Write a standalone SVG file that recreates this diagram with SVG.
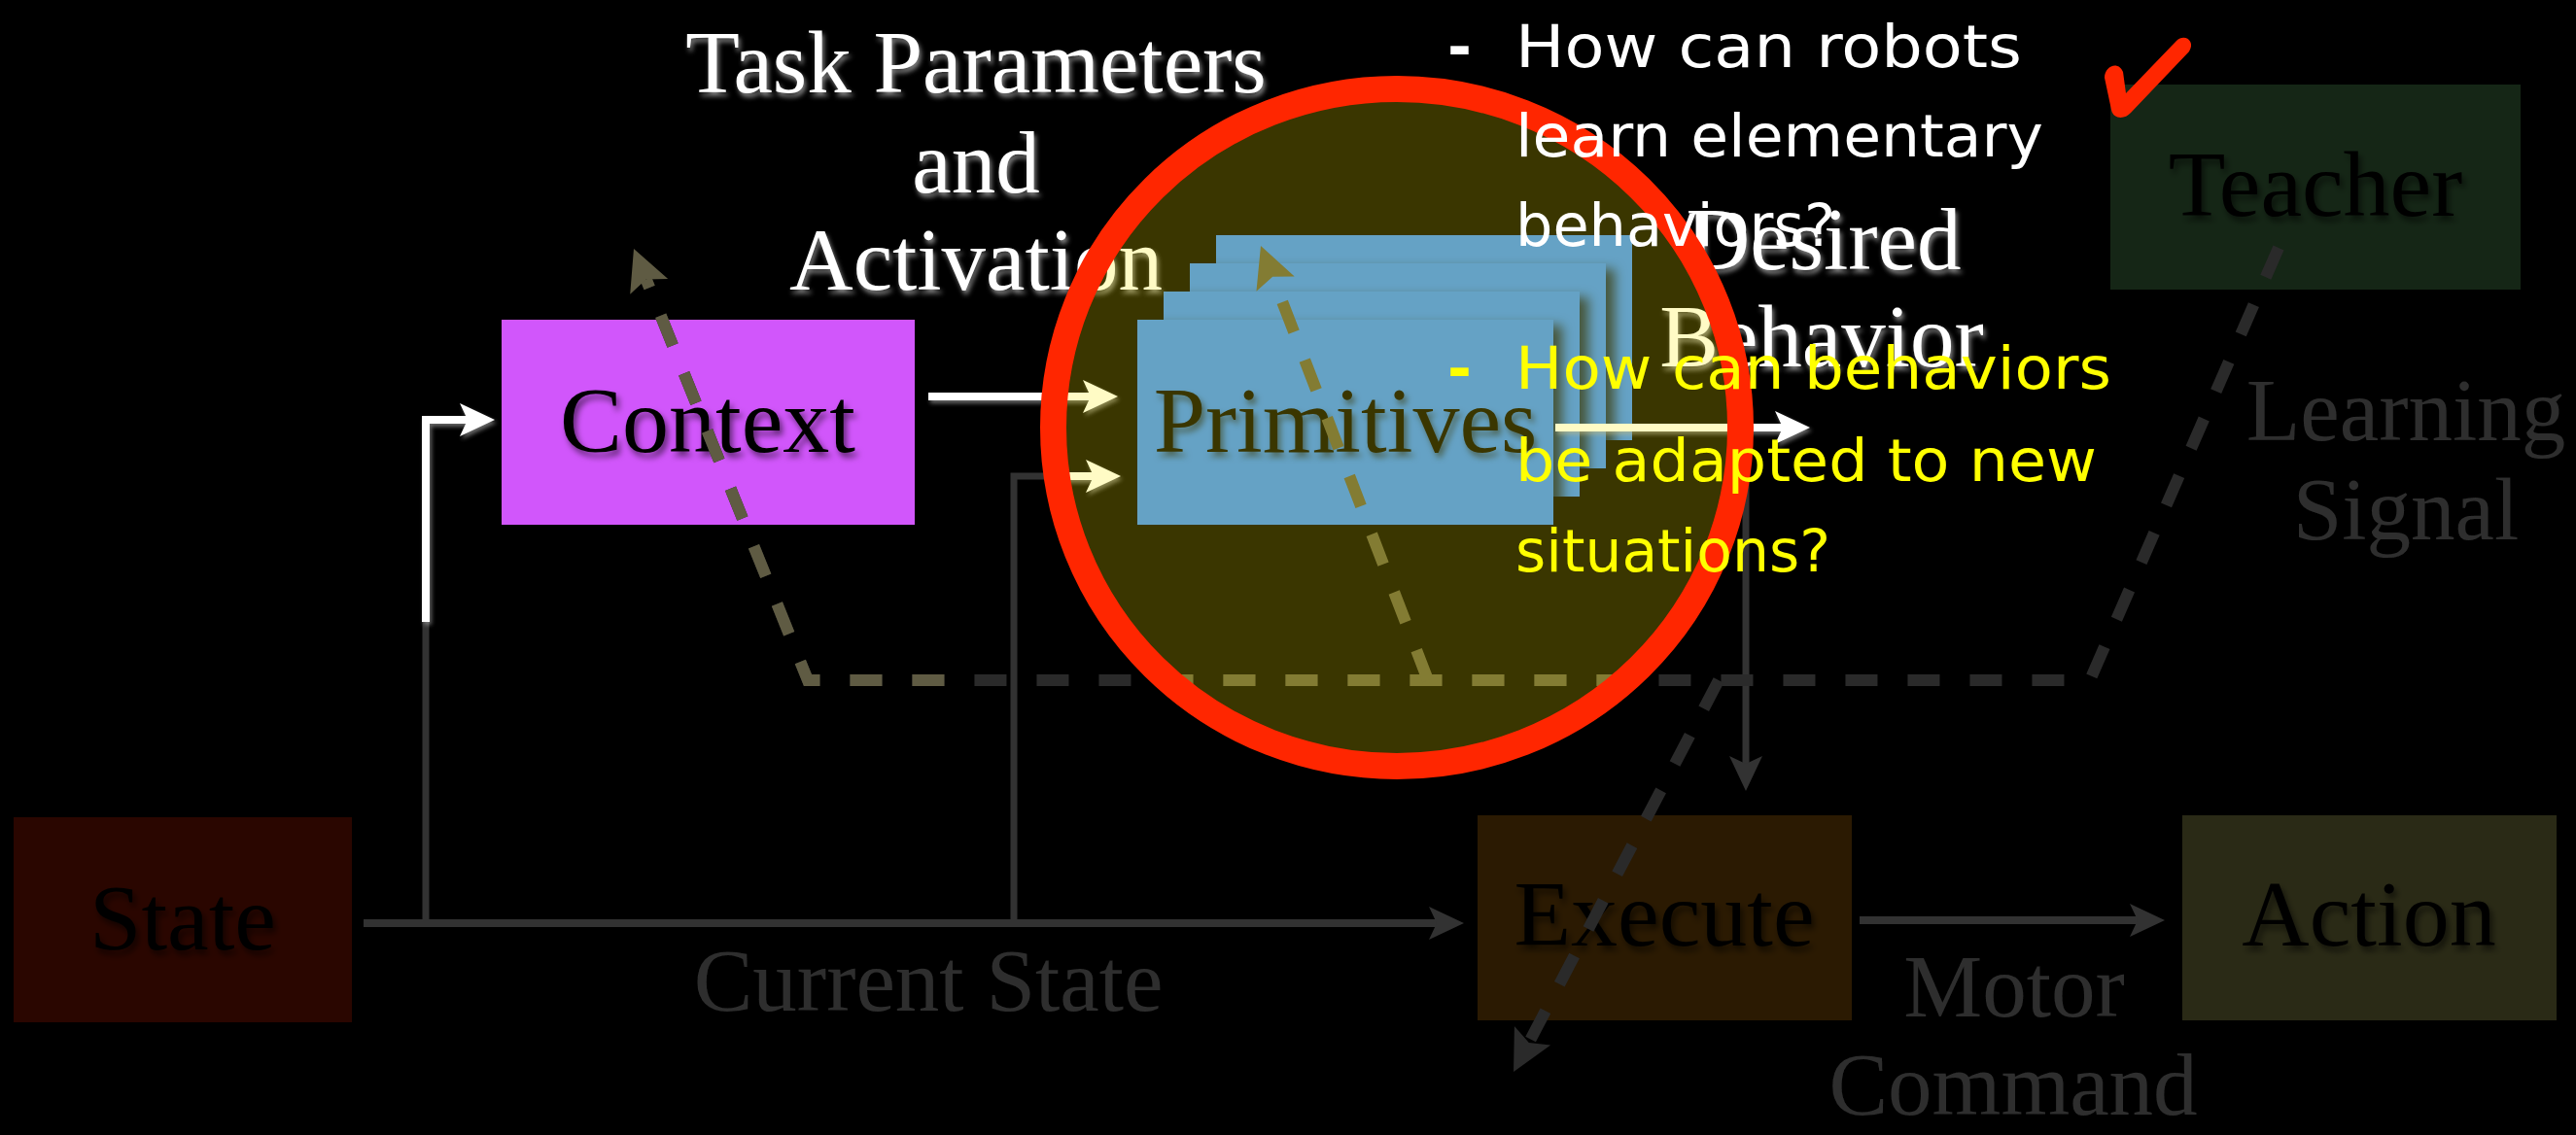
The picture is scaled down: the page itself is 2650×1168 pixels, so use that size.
<svg xmlns="http://www.w3.org/2000/svg" width="2650" height="1168" viewBox="0 0 2650 1168">
<defs>
<style>
.nt{font-family:"Liberation Serif","Times New Roman",serif;font-size:96px;text-anchor:middle;fill:#000}
.lbl{font-family:"Liberation Serif","Times New Roman",serif;font-size:91px;text-anchor:middle}
.dim{fill:#2e2e2e}
.wl{fill:#fff}
.q{font-family:"DejaVu Sans",sans-serif;font-size:60px}
.qw{fill:#fff}
.qy{fill:#ffff00}
.g{fill:none;stroke:#323232;stroke-width:7}
.gm{fill:none;stroke:#323232;stroke-width:8}
.w{fill:none;stroke:#fff;stroke-width:8}
.d{fill:none;stroke-width:12;stroke-dasharray:33 31}
.dk{stroke:#2a2a2a}
.ol{stroke:#5f5b43}
.pbox{fill:#378cff}
</style>
<filter id="fglow" x="-10%" y="-20%" width="120%" height="150%">
<feDropShadow dx="2" dy="4" stdDeviation="2.5" flood-color="#9a9a9a" flood-opacity="0.85"/>
</filter>
<filter id="fsh" x="-10%" y="-20%" width="120%" height="150%">
<feDropShadow dx="3" dy="5" stdDeviation="3" flood-color="#000" flood-opacity="0.55"/>
</filter>
<filter id="fbox" x="-10%" y="-10%" width="125%" height="125%">
<feDropShadow dx="9" dy="6" stdDeviation="6" flood-color="#000" flood-opacity="0.7"/>
</filter>
<filter id="fwa" x="-20%" y="-50%" width="140%" height="200%">
<feDropShadow dx="2" dy="3" stdDeviation="2" flood-color="#aaa" flood-opacity="0.6"/>
</filter>
<marker id="ag" markerUnits="userSpaceOnUse" viewBox="-10 -20 40 40" markerWidth="40" markerHeight="40" refX="0" refY="0" orient="auto">
<path d="M28,0 L-8,-17 L0,0 L-8,17 Z" fill="#323232"/>
</marker>
<marker id="aw" markerUnits="userSpaceOnUse" viewBox="-10 -20 40 40" markerWidth="40" markerHeight="40" refX="0" refY="0" orient="auto">
<path d="M28,0 L-8,-17 L0,0 L-8,17 Z" fill="#fff"/>
</marker>
<marker id="adk" markerUnits="userSpaceOnUse" viewBox="-10 -24 48 48" markerWidth="48" markerHeight="48" refX="0" refY="0" orient="auto">
<path d="M34,0 L-8,-21 L0,0 L-8,21 Z" fill="#2a2a2a"/>
</marker>
<marker id="aol" markerUnits="userSpaceOnUse" viewBox="-10 -24 48 48" markerWidth="48" markerHeight="48" refX="0" refY="0" orient="auto">
<path d="M34,0 L-8,-21 L0,0 L-8,21 Z" fill="#5f5b43"/>
</marker>
<clipPath id="olclip">
<rect x="0" y="0" width="1000" height="1168"/>
<ellipse cx="1437" cy="440" rx="354" ry="349"/>
</clipPath>
<path id="trunk" d="M2344,255 L2150,700 L831,700 L664.7,287.5"/>
</defs>

<rect x="0" y="0" width="2650" height="1168" fill="#000"/>

<g id="state">
<rect x="14" y="841" width="348" height="211" fill="#2a0600"/>
<text x="188" y="977" class="nt" filter="url(#fsh)">State</text>
</g>
<g id="context">
<rect x="516" y="329" width="425" height="211" fill="#d156fb"/>
<text x="728" y="465" class="nt" filter="url(#fsh)">Context</text>
</g>
<g id="primitives">
<rect x="1251" y="242" width="428" height="211" class="pbox" filter="url(#fbox)"/>
<rect x="1224" y="271" width="428" height="211" class="pbox" filter="url(#fbox)"/>
<rect x="1197" y="300" width="428" height="211" class="pbox" filter="url(#fbox)"/>
<rect x="1170" y="329" width="428" height="211" class="pbox" filter="url(#fbox)"/>
<text x="1384" y="465" class="nt" filter="url(#fsh)">Primitives</text>
</g>
<g id="execute">
<rect x="1520" y="839" width="385" height="211" fill="#2b1a02"/>
<text x="1712" y="973" class="nt" filter="url(#fsh)">Execute</text>
</g>
<g id="action">
<rect x="2245" y="839" width="385" height="211" fill="#2a2a16"/>
<text x="2437" y="973" class="nt" filter="url(#fsh)">Action</text>
</g>
<g id="teacher">
<rect x="2171" y="87" width="422" height="211" fill="#152616"/>
<text x="2382" y="222" class="nt" filter="url(#fsh)">Teacher</text>
</g>

<g id="connectors">
<path class="gm" d="M374,950 L1478,950" marker-end="url(#ag)"/>
<path class="gm" d="M1913,947 L2199,947" marker-end="url(#ag)"/>
<path class="g" d="M1796,444 L1796,786" marker-end="url(#ag)"/>
<path class="g" d="M438,950 L438,636"/>
<path class="g" d="M1043,950 L1043,490 L1088,490"/>
<g filter="url(#fwa)">
<path class="w" d="M438,640 L438,432 L481,432" marker-end="url(#aw)"/>
<path class="w" d="M955,408 L1122,408" marker-end="url(#aw)"/>
<path class="w" d="M1080,490 L1125,490" marker-end="url(#aw)"/>
<path class="w" d="M1600,440 L1834,440" marker-end="url(#aw)"/>
</g>
<use href="#trunk" class="d dk"/>
<use href="#trunk" class="d ol" clip-path="url(#olclip)" marker-end="url(#aol)"/>
<path class="d ol" d="M1469,700 L1309.2,284.7" marker-end="url(#aol)"/>
<path class="d dk" d="M1768,700 L1572.8,1072.9" marker-end="url(#adk)"/>
</g>

<g id="labels">
<text class="lbl wl" filter="url(#fglow)" font-size="89"><tspan x="1004" y="95">Task Parameters</tspan><tspan x="1004" y="198">and</tspan><tspan x="1004" y="298">Activation</tspan></text>
<text class="lbl wl" filter="url(#fglow)" font-size="90"><tspan x="1876" y="277">Desired</tspan><tspan x="1874" y="377">Behavior</tspan></text>
<text x="955" y="1040" class="lbl dim" filter="url(#fsh)">Current State</text>
<text class="lbl dim" filter="url(#fsh)"><tspan x="2072" y="1046">Motor</tspan><tspan x="2071" y="1147">Command</tspan></text>
<text class="lbl dim" filter="url(#fsh)" font-size="90"><tspan x="2475" y="453">Learning</tspan><tspan x="2475" y="555">Signal</tspan></text>
</g>

<g id="highlight">
<ellipse cx="1437" cy="440" rx="354" ry="349" fill="#ffee00" fill-opacity="0.227"/>
<ellipse cx="1437" cy="440" rx="353.5" ry="348.5" fill="none" stroke="#ff2600" stroke-width="27"/>
</g>

<g id="questions">
<text class="q qw" x="1489" y="69" font-weight="bold">-</text>
<text class="q qw" x="1559" y="69" textLength="521" lengthAdjust="spacingAndGlyphs">How can robots</text>
<text class="q qw" x="1559" y="161" textLength="543" lengthAdjust="spacingAndGlyphs">learn elementary</text>
<text class="q qw" x="1559" y="253" textLength="329" lengthAdjust="spacingAndGlyphs">behaviors?</text>
<text class="q qy" x="1489" y="400" font-weight="bold">-</text>
<text class="q qy" x="1559" y="400" textLength="613" lengthAdjust="spacingAndGlyphs">How can behaviors</text>
<text class="q qy" x="1559" y="495" textLength="598" lengthAdjust="spacingAndGlyphs">be adapted to new</text>
<text class="q qy" x="1559" y="588" textLength="324" lengthAdjust="spacingAndGlyphs">situations?</text>
</g>

<g id="checkmark">
<path d="M2165,80 C2165,68 2179,62 2184,74 L2187,96 L2239,42 C2247,34 2259,42 2252,53 L2192,116 C2186,123 2174,123 2172,113 Z" fill="#ff2600"/>
</g>
</svg>
